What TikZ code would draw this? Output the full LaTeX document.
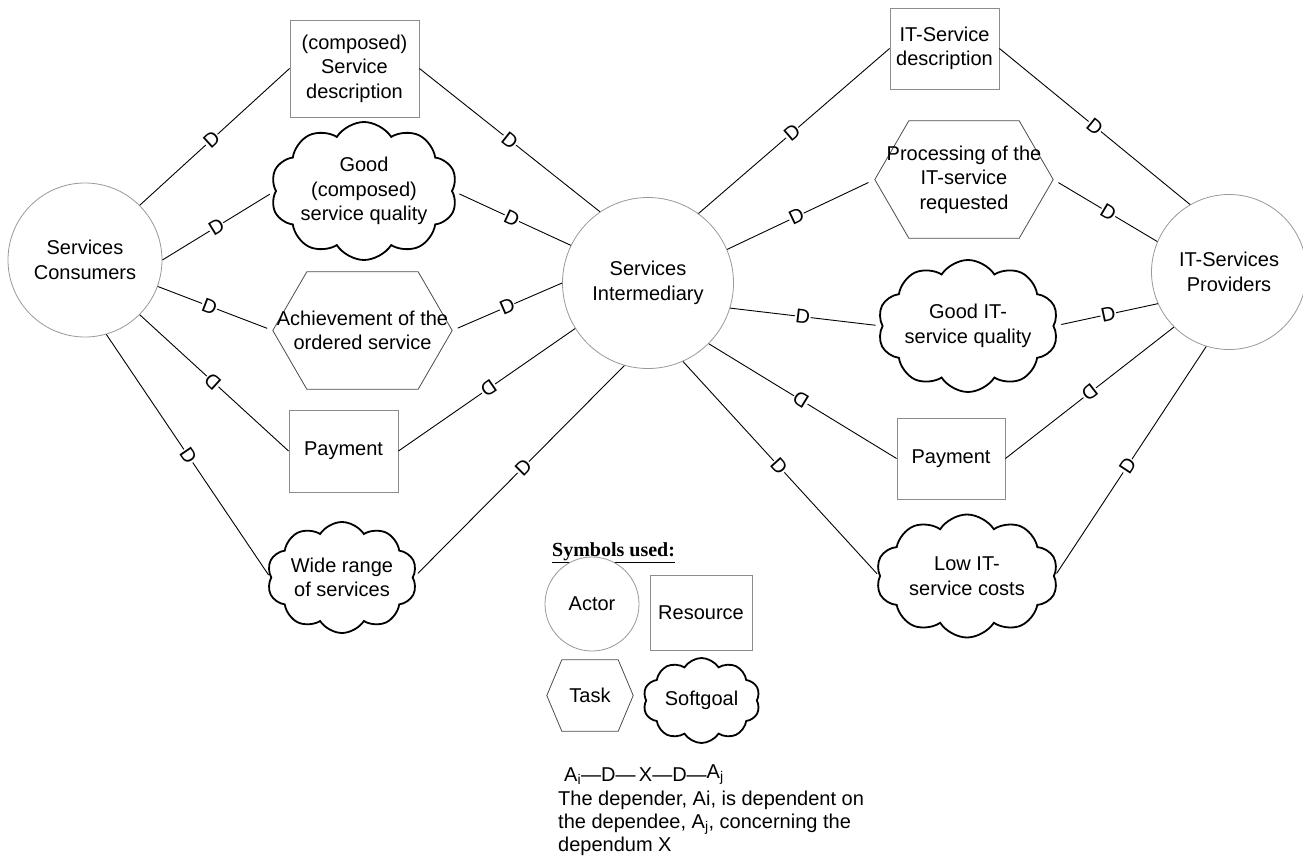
\documentclass[tikz,border=0pt]{standalone}
\usepackage{fontspec}
\setmainfont{Liberation Sans}
\newfontfamily\legendfont{Liberation Serif}
\usetikzlibrary{shapes.symbols,calc}

\definecolor{actorgray}{gray}{0.6}
\definecolor{boxgray}{gray}{0.55}
\definecolor{taskgray}{gray}{0.3}

\tikzset{
    actor/.style =  {circle,
                    draw=actorgray,
                    fill=white,
                    text=black,
                    line width=0.8pt,
                    align=center,
                    inner sep=0pt},
    resource/.style = {rectangle,
                    draw=boxgray,
                    fill=white,
                    text=black,
                    line width=0.9pt,
                    align=center,
                    inner sep=0pt},
    task/.style =   {rectangle,
                    text=black,
                    align=center,
                    inner sep=0pt,
                    append after command={\pgfextra{
                        \draw[draw=taskgray, line width=0.8pt]
                            (\tikzlastnode.west)
                            -- ([xshift=#1]\tikzlastnode.north west)
                            -- ([xshift=-#1]\tikzlastnode.north east)
                            -- (\tikzlastnode.east)
                            -- ([xshift=-#1]\tikzlastnode.south east)
                            -- ([xshift=#1]\tikzlastnode.south west)
                            -- cycle;}}},
    task/.default = 34pt,
    softgoal/.style = {cloud,
                    cloud puffs=10,
                    cloud puff arc=115,
                    cloud ignores aspect,
                    draw=black,
                    fill=white,
                    text=black,
                    line width=1.8pt,
                    align=center,
                    inner sep=0pt},
    -,
    dep/.style =    {sloped,
                    allow upside down,
                    fill=white,
                    text=black,
                    inner sep=0.6pt,
                    font=\fontsize{20}{20}\selectfont},
    link/.style =   {draw=black,
                    line width=0.9pt}}

\begin{document}
\begin{tikzpicture}[x=1pt,y=-1pt,font=\fontsize{20}{24.5}\selectfont]
        \useasboundingbox (0,0) rectangle (1303,861);
                % actors
                \node[actor, minimum size=154pt]    (cons)  at (85,260)    {Services\\Consumers};
                \node[actor, minimum size=171pt]    (inter) at (648,283)   {Services\\Intermediary};
                \node[actor, minimum size=155pt]    (prov)  at (1229,272)  {IT-Services\\Providers};

                % consumer side
                \node[resource, minimum width=129pt, minimum height=97pt]  (sd)   at (354.5,68.5)  {(composed)\\Service\\description};
                \node[softgoal, minimum width=186pt, minimum height=138pt] (gq)   at (364,191)     {Good\\(composed)\\service quality};
                \node[task, minimum width=179pt, minimum height=117pt]     (ach)  at (362.5,330.5) {Achievement of the\\ordered service};
                \node[resource, minimum width=109pt, minimum height=82pt]  (payl) at (343.5,451)   {Payment};
                \node[softgoal, minimum width=150pt, minimum height=111pt] (wr)   at (342,577.5)   {Wide range\\of services};

                % provider side
                \node[resource, minimum width=109pt, minimum height=81pt]  (itsd) at (944.5,48.5)  {IT-Service\\description};
                \node[task, minimum width=178pt, minimum height=117pt]     (proc) at (964,179.5)   {Processing of the\\IT-service\\requested};
                \node[softgoal, minimum width=178pt, minimum height=132pt] (gitq) at (968,326)     {Good IT-\\service quality};
                \node[resource, minimum width=108pt, minimum height=81pt]  (payr) at (951,458.5)   {Payment};
                \node[softgoal, minimum width=182pt, minimum height=123pt] (low)  at (967,576)     {Low IT-\\service costs};

                % legend
                \node[anchor=west, inner sep=0pt, font=\legendfont\bfseries\fontsize{20}{24}\selectfont] (symb) at (552,553) {\underline{Symbols used:}};
                \node[actor, minimum size=94pt]                            (lact)  at (592,604)    {Actor};
                \node[resource, minimum width=102pt, minimum height=75pt]  (lres)  at (701,612.5)  {Resource};
                \node[task=15pt, minimum width=86pt, minimum height=71pt]  (ltask) at (590,695.5)  {Task};
                \node[softgoal, minimum width=117pt, minimum height=85pt]  (lsoft) at (701.5,700.5) {Softgoal};
                \node[anchor=west, inner sep=0pt]                          (lchain) at (564,775)   {A\textsubscript{i}—D—\,X—D—\raisebox{3pt}{A\textsubscript{j}}};
                \node[anchor=north west, inner sep=0pt, align=left, font=\fontsize{20}{23}\selectfont] (lnote) at (558,791)
                    {The depender, Ai, is dependent on\\the dependee, A\textsubscript{j}, concerning the\\dependum X};

                \path [link]    (cons.45)   edge []                 node [dep, pos=0.48] {D} (sd.west)
                                (sd.east)   edge []                 node [dep, pos=0.5]  {D} (inter.124)
                                (cons.east) edge [shorten >=6pt]    node [dep, pos=0.48] {D} (gq.west)
                                (gq.east)   edge [shorten <=7pt]    node [dep, pos=0.5]  {D} (inter.154)
                                (cons.-20)  edge [shorten >=6pt]    node [dep, pos=0.45] {D} (ach.west)
                                (ach.east)  edge [shorten <=6pt]    node [dep, pos=0.5]  {D} (inter.west)
                                (inter.212) edge []                 node [dep, pos=0.49] {D} (payl.east)
                                (payl.west) edge []                 node [dep, pos=0.51] {D} (cons.-45)
                                (cons.-74)  edge [shorten >=3pt]    node [dep, pos=0.5]  {D} (wr.west)
                                (wr.east)   edge [shorten <=6pt]    node [dep, pos=0.52] {D} (inter.254);

                \path [link]    (inter.54)  edge []                 node [dep, pos=0.49] {D} (itsd.west)
                                (itsd.east) edge []                 node [dep, pos=0.5]  {D} (prov.120)
                                (inter.23)  edge [shorten >=7pt]    node [dep, pos=0.47] {D} (proc.west)
                                (proc.east) edge [shorten <=6pt]    node [dep, pos=0.53] {D} (prov.157)
                                (inter.-17) edge [shorten >=6pt]    node [dep, pos=0.48] {D} (gitq.west)
                                (gitq.east) edge [shorten <=7pt]    node [dep, pos=0.52] {D} (prov.204)
                                (prov.225)  edge []                 node [dep, pos=0.5]  {D} (payr.east)
                                (payr.west) edge []                 node [dep, pos=0.51] {D} (inter.-45)
                                (inter.-66) edge [shorten >=3pt]    node [dep, pos=0.49] {D} (low.west)
                                (low.east)  edge [shorten <=3pt]    node [dep, pos=0.48] {D} (prov.253);
        \end{tikzpicture}
\end{document}
